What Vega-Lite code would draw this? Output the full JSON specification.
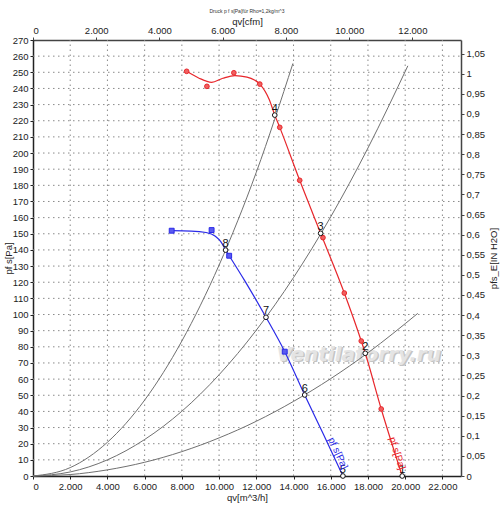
{
  "$schema": "https://vega.github.io/schema/vega-lite/v6.json",
  "width": 428,
  "height": 436,
  "autosize": "none",
  "padding": {"left": 33, "top": 40, "right": 39, "bottom": 34},
  "background": "white",
  "title": {
    "text": "Druck p f s[Pa]für Rho=1,2kg/m^3",
    "fontSize": 5,
    "fontWeight": "normal",
    "font": "Liberation Sans",
    "color": "#333",
    "anchor": "middle",
    "offset": 2
  },
  "datasets": {
    "gridx": [
      {"q": 2000, "p": 0, "p2": 270},
      {"q": 4000, "p": 0, "p2": 270},
      {"q": 6000, "p": 0, "p2": 270},
      {"q": 8000, "p": 0, "p2": 270},
      {"q": 10000, "p": 0, "p2": 270},
      {"q": 12000, "p": 0, "p2": 270},
      {"q": 14000, "p": 0, "p2": 270},
      {"q": 16000, "p": 0, "p2": 270},
      {"q": 18000, "p": 0, "p2": 270},
      {"q": 20000, "p": 0, "p2": 270},
      {"q": 22000, "p": 0, "p2": 270}
    ],
    "gridy": [
      {"q": 0, "q2": 23000, "p": 10},
      {"q": 0, "q2": 23000, "p": 20},
      {"q": 0, "q2": 23000, "p": 30},
      {"q": 0, "q2": 23000, "p": 40},
      {"q": 0, "q2": 23000, "p": 50},
      {"q": 0, "q2": 23000, "p": 60},
      {"q": 0, "q2": 23000, "p": 70},
      {"q": 0, "q2": 23000, "p": 80},
      {"q": 0, "q2": 23000, "p": 90},
      {"q": 0, "q2": 23000, "p": 100},
      {"q": 0, "q2": 23000, "p": 110},
      {"q": 0, "q2": 23000, "p": 120},
      {"q": 0, "q2": 23000, "p": 130},
      {"q": 0, "q2": 23000, "p": 140},
      {"q": 0, "q2": 23000, "p": 150},
      {"q": 0, "q2": 23000, "p": 160},
      {"q": 0, "q2": 23000, "p": 170},
      {"q": 0, "q2": 23000, "p": 180},
      {"q": 0, "q2": 23000, "p": 190},
      {"q": 0, "q2": 23000, "p": 200},
      {"q": 0, "q2": 23000, "p": 210},
      {"q": 0, "q2": 23000, "p": 220},
      {"q": 0, "q2": 23000, "p": 230},
      {"q": 0, "q2": 23000, "p": 240},
      {"q": 0, "q2": 23000, "p": 250},
      {"q": 0, "q2": 23000, "p": 260}
    ],
    "sys": [
      {"curve": "A", "q": 0, "p": 0},
      {"curve": "A", "q": 2000, "p": 5.2},
      {"curve": "A", "q": 4000, "p": 20.9},
      {"curve": "A", "q": 6000, "p": 47.0},
      {"curve": "A", "q": 8000, "p": 83.6},
      {"curve": "A", "q": 10000, "p": 130.6},
      {"curve": "A", "q": 12000, "p": 188.1},
      {"curve": "A", "q": 13968, "p": 255.5},
      {"curve": "B", "q": 0, "p": 0},
      {"curve": "B", "q": 2000, "p": 2.5},
      {"curve": "B", "q": 4000, "p": 10.0},
      {"curve": "B", "q": 6000, "p": 22.6},
      {"curve": "B", "q": 8000, "p": 40.1},
      {"curve": "B", "q": 10000, "p": 62.7},
      {"curve": "B", "q": 12000, "p": 90.3},
      {"curve": "B", "q": 14000, "p": 122.9},
      {"curve": "B", "q": 16000, "p": 160.5},
      {"curve": "B", "q": 18000, "p": 203.1},
      {"curve": "B", "q": 20144, "p": 254.0},
      {"curve": "C", "q": 0, "p": 0},
      {"curve": "C", "q": 2000, "p": 0.9},
      {"curve": "C", "q": 4000, "p": 3.8},
      {"curve": "C", "q": 6000, "p": 8.5},
      {"curve": "C", "q": 8000, "p": 15.1},
      {"curve": "C", "q": 10000, "p": 23.6},
      {"curve": "C", "q": 12000, "p": 33.9},
      {"curve": "C", "q": 14000, "p": 46.2},
      {"curve": "C", "q": 16000, "p": 60.3},
      {"curve": "C", "q": 18000, "p": 76.3},
      {"curve": "C", "q": 20676, "p": 100.7}
    ],
    "red": [
      {"q": 8257, "p": 250.6},
      {"q": 8900, "p": 246.5},
      {"q": 9600, "p": 243.8},
      {"q": 10200, "p": 246.3},
      {"q": 10850, "p": 248.0},
      {"q": 11500, "p": 247.0},
      {"q": 12188, "p": 242.7},
      {"q": 12700, "p": 233.0},
      {"q": 12992, "p": 223.5},
      {"q": 13260, "p": 215.9},
      {"q": 14332, "p": 183.1},
      {"q": 15458, "p": 150.3},
      {"q": 16729, "p": 113.3},
      {"q": 17640, "p": 83.6},
      {"q": 17855, "p": 76.0},
      {"q": 18713, "p": 41.5},
      {"q": 19840, "p": 0}
    ],
    "redm": [
      {"q": 8257, "p": 250.6},
      {"q": 9346, "p": 241.3},
      {"q": 10794, "p": 249.7},
      {"q": 12188, "p": 242.7},
      {"q": 13260, "p": 215.9},
      {"q": 14332, "p": 183.1},
      {"q": 15582, "p": 147.6},
      {"q": 16729, "p": 113.3},
      {"q": 17640, "p": 83.6},
      {"q": 18713, "p": 41.5}
    ],
    "blue": [
      {"q": 7453, "p": 151.9},
      {"q": 8500, "p": 151.7},
      {"q": 9300, "p": 150.8},
      {"q": 9800, "p": 148.5},
      {"q": 10100, "p": 145.0},
      {"q": 10349, "p": 139.9},
      {"q": 10542, "p": 136.4},
      {"q": 11400, "p": 120.5},
      {"q": 12520, "p": 98.3},
      {"q": 13528, "p": 77.0},
      {"q": 14601, "p": 50.2},
      {"q": 15600, "p": 26.0},
      {"q": 16654, "p": 0}
    ],
    "bluem": [
      {"q": 7453, "p": 151.9},
      {"q": 9598, "p": 152.3},
      {"q": 10542, "p": 136.4},
      {"q": 13528, "p": 77.0}
    ],
    "ops": [
      {"q": 12992, "p": 223.5, "label": "4"},
      {"q": 15458, "p": 150.3, "label": "3"},
      {"q": 17855, "p": 76.0, "label": "2"},
      {"q": 19840, "p": 0, "label": "1"},
      {"q": 10349, "p": 139.9, "label": "8"},
      {"q": 12520, "p": 98.3, "label": "7"},
      {"q": 14601, "p": 50.2, "label": "6"},
      {"q": 16654, "p": 0, "label": "5"}
    ],
    "curvelabels": [
      {"q": 16380, "p": 14, "label": "pf s[Pa]", "series": "blue"},
      {"q": 19560, "p": 14, "label": "pf s[Pa]", "series": "red"}
    ],
    "wm": [
      {"q": 17500, "p": 75, "label": "Ventilatorry.ru"}
    ]
  },
  "layer": [
    {
      "encoding": {
        "x": {
          "field": "q", "type": "quantitative",
          "scale": {"domain": [0, 23000], "nice": false},
          "title": "qv[m^3/h]",
          "axis": {
            "values": [0, 2000, 4000, 6000, 8000, 10000, 12000, 14000, 16000, 18000, 20000, 22000],
            "labelExpr": "replace(format(datum.value, ','), ',', '.')",
            "labelOverlap": false,
            "grid": false,
            "domainColor": "#222", "domainWidth": 1.5,
            "tickColor": "#222", "tickSize": 3,
            "labelFont": "Liberation Sans", "labelFontSize": 9.5, "labelColor": "#222",
            "titleFont": "Liberation Sans", "titleFontSize": 9.5, "titleFontWeight": "normal", "titleColor": "#222",
            "titlePadding": 2
          }
        },
        "y": {
          "field": "p", "type": "quantitative",
          "scale": {"domain": [0, 270], "nice": false},
          "title": "pf s[Pa]",
          "axis": {
            "values": [0, 10, 20, 30, 40, 50, 60, 70, 80, 90, 100, 110, 120, 130, 140, 150, 160, 170, 180, 190, 200, 210, 220, 230, 240, 250, 260, 270],
            "labelOverlap": false,
            "grid": false,
            "domainColor": "#222", "domainWidth": 1.5,
            "tickColor": "#222", "tickSize": 3,
            "labelFont": "Liberation Sans", "labelFontSize": 9.5, "labelColor": "#222",
            "titleFont": "Liberation Sans", "titleFontSize": 9.5, "titleFontWeight": "normal", "titleColor": "#222",
            "titlePadding": -1
          }
        }
      },
      "layer": [
        {
          "data": {"name": "gridx"},
          "mark": {"type": "rule", "color": "#8a8a8a", "strokeWidth": 1, "strokeDash": [1.5, 3.5]},
          "encoding": {"y2": {"field": "p2"}}
        },
        {
          "data": {"name": "gridy"},
          "mark": {"type": "rule", "color": "#8a8a8a", "strokeWidth": 1, "strokeDash": [1.5, 3.5]},
          "encoding": {"x2": {"field": "q2"}}
        },
        {
          "data": {"name": "wm"},
          "mark": {"type": "text", "font": "DejaVu Sans", "fontSize": 20, "fontStyle": "italic", "fontWeight": "bold", "color": "#c4c4c4", "dx": 1.5, "dy": 1.5},
          "encoding": {"text": {"field": "label"}}
        },
        {
          "data": {"name": "wm"},
          "mark": {"type": "text", "font": "DejaVu Sans", "fontSize": 20, "fontStyle": "italic", "fontWeight": "bold", "color": "#e4e4e4"},
          "encoding": {"text": {"field": "label"}}
        },
        {
          "data": {"name": "sys"},
          "mark": {"type": "line", "interpolate": "monotone", "color": "#707070", "strokeWidth": 1},
          "encoding": {"detail": {"field": "curve"}}
        },
        {
          "data": {"name": "red"},
          "mark": {"type": "line", "interpolate": "monotone", "color": "#e8262b", "strokeWidth": 1.2},
          "encoding": {}
        },
        {
          "data": {"name": "redm"},
          "mark": {"type": "point", "shape": "circle", "filled": true, "color": "#f06060", "stroke": "#e8262b", "strokeWidth": 1, "size": 22, "opacity": 1},
          "encoding": {}
        },
        {
          "data": {"name": "blue"},
          "mark": {"type": "line", "interpolate": "monotone", "color": "#2a2ae8", "strokeWidth": 1.2},
          "encoding": {}
        },
        {
          "data": {"name": "bluem"},
          "mark": {"type": "point", "shape": "square", "filled": true, "color": "#5a5af0", "stroke": "#2a2ae8", "strokeWidth": 1, "size": 24, "opacity": 1},
          "encoding": {}
        },
        {
          "data": {"name": "ops"},
          "mark": {"type": "point", "shape": "circle", "filled": true, "fill": "white", "stroke": "#111", "strokeWidth": 1, "size": 22, "opacity": 1},
          "encoding": {}
        },
        {
          "data": {"name": "ops"},
          "mark": {"type": "text", "font": "Liberation Sans", "fontSize": 11, "color": "#111", "dy": -6, "baseline": "middle"},
          "encoding": {"text": {"field": "label"}}
        },
        {
          "data": {"name": "curvelabels"},
          "mark": {"type": "text", "font": "Liberation Sans", "fontSize": 10, "baseline": "middle", "align": "center"},
          "encoding": {
            "text": {"field": "label"},
            "angle": {"field": "series", "type": "nominal", "scale": {"domain": ["blue", "red"], "range": [65, 72]}, "legend": null},
            "color": {"field": "series", "type": "nominal", "scale": {"domain": ["blue", "red"], "range": ["#2a2ae8", "#e8262b"]}, "legend": null}
          }
        }
      ]
    },
    {
      "data": {"values": [{"cfm": 0, "inh": 0}, {"cfm": 13537, "inh": 1.084}]},
      "mark": {"type": "point", "opacity": 0},
      "encoding": {
        "x": {
          "field": "cfm", "type": "quantitative",
          "scale": {"domain": [0, 13537.3], "nice": false},
          "title": "qv[cfm]",
          "axis": {
            "orient": "top",
            "values": [0, 2000, 4000, 6000, 8000, 10000, 12000],
            "labelExpr": "replace(format(datum.value, ','), ',', '.')",
            "labelOverlap": false,
            "grid": false,
            "domainColor": "#444", "domainWidth": 1.5,
            "tickColor": "#444", "tickSize": 3,
            "labelFont": "Liberation Sans", "labelFontSize": 9.5, "labelColor": "#222",
            "titleFont": "Liberation Sans", "titleFontSize": 9.5, "titleFontWeight": "normal", "titleColor": "#222",
            "titlePadding": -1
          }
        },
        "y": {
          "field": "inh", "type": "quantitative",
          "scale": {"domain": [0, 1.08397], "nice": false},
          "title": "pfs_E[IN H2O]",
          "axis": {
            "orient": "right",
            "values": [0, 0.05, 0.1, 0.15, 0.2, 0.25, 0.3, 0.35, 0.4, 0.45, 0.5, 0.55, 0.6, 0.65, 0.7, 0.75, 0.8, 0.85, 0.9, 0.95, 1, 1.05],
            "labelExpr": "replace(format(datum.value, '.2~f'), '.', ',')",
            "labelOverlap": false,
            "grid": false,
            "domainColor": "#444", "domainWidth": 1.5,
            "tickColor": "#444", "tickSize": 3,
            "labelFont": "Liberation Sans", "labelFontSize": 9.5, "labelColor": "#222",
            "titleFont": "Liberation Sans", "titleFontSize": 9.5, "titleFontWeight": "normal", "titleColor": "#222",
            "titleAngle": -90,
            "titleBaseline": "top",
            "titlePadding": 4
          }
        }
      }
    }
  ],
  "resolve": {"scale": {"x": "independent", "y": "independent"}},
  "config": {
    "view": {"stroke": null}
  }
}
